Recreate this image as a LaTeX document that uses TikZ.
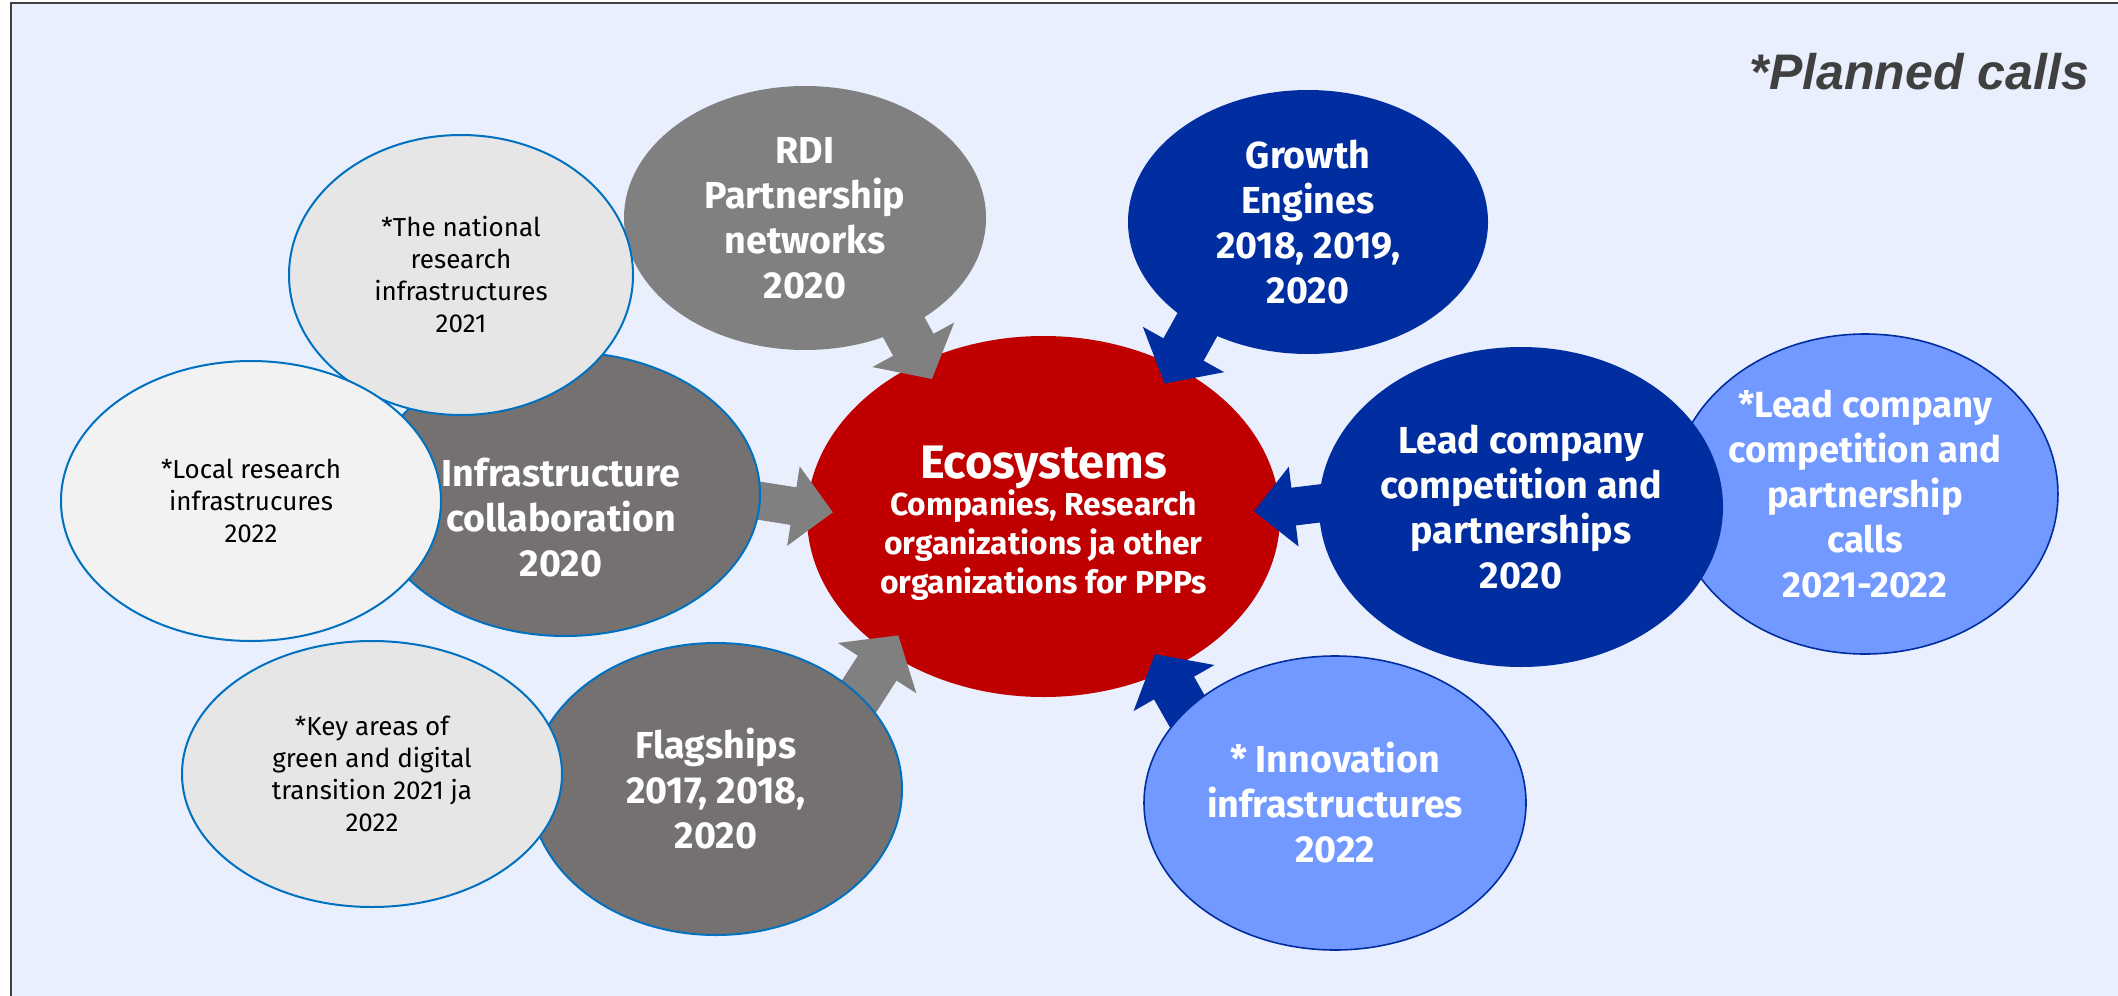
\documentclass[tikz,border=0pt]{standalone}
\usepackage{fontspec}
\setmainfont{Fira Sans}
\newfontfamily\plannedfamily{Liberation Sans}
\usetikzlibrary{shapes.geometric,arrows.meta}

\definecolor{bgblue}{RGB}{233,239,253}
\definecolor{framegrey}{RGB}{64,64,64}
\definecolor{ecored}{RGB}{192,0,0}
\definecolor{dkblue}{RGB}{0,46,160}
\definecolor{ltblue}{RGB}{114,153,255}
\definecolor{rdigrey}{RGB}{128,128,128}
\definecolor{dkgrey}{RGB}{118,113,113}
\definecolor{paleA}{RGB}{230,230,230}
\definecolor{paleB}{RGB}{242,242,242}
\definecolor{edgeblue}{RGB}{0,112,192}

\newcommand\bubfont{\bfseries\fontsize{18.8}{22.5}\selectfont}
\newcommand\notefont{\fontsize{13}{16}\selectfont}

\pgfdeclarelayer{bottom}
\pgfdeclarelayer{tips}
\pgfsetlayers{bottom,tips,main}

\begin{document}
\begin{tikzpicture}[x=0.5pt,y=-0.5pt,
  bubble/.style={ellipse, inner sep=0pt, outer sep=0pt, align=center, text=white, font=\bubfont},
  note/.style={ellipse, inner sep=0pt, outer sep=0pt, align=center, text=black, font=\notefont, draw=edgeblue, line width=1pt},
  callout/.style={line width=23pt, shorten <=-8pt, shorten >=-10pt, -{Triangle[width=45.5pt,length=19.5pt]}},
  slim/.style={line width=19pt, shorten >=-13pt, -{Triangle[width=39pt,length=20pt]}}
]
\useasboundingbox (0,0) rectangle (2118,995);

\begin{pgfonlayer}{bottom}
\fill[white] (0,0) rectangle (2118,995);
\draw[fill=bgblue, draw=framegrey, line width=1pt] (11,3) rectangle (2140,1010);
% centre
\node[bubble, fill=ecored, minimum width=236.5pt, minimum height=180.5pt, font=\bfseries\fontsize{15.9}{19.5}\selectfont] (eco) at (1043.5,516.5)
  {\rule{0pt}{23pt}{\fontsize{23.5}{23.5}\selectfont Ecosystems}\\[-1pt] Companies, Research\\ organizations ja other\\ organizations for PPPs};
\end{pgfonlayer}

% calls
\node[bubble, fill=rdigrey, minimum width=181pt, minimum height=132pt] (rdi) at (805,218) {RDI\\ Partnership\\ networks\\ 2020};
\node[bubble, fill=dkblue, minimum width=180pt, minimum height=132pt] (growth) at (1308,222) {Growth\\ Engines\\ 2018, 2019,\\ 2020};

\node[bubble, fill=dkgrey, draw=edgeblue, line width=1pt, minimum width=195pt, minimum height=142pt] (infra) at (565,494) {};
\node[bubble] (infra-t) at (561,518) {Infrastructure\\ collaboration\\ 2020};
\node[note, fill=paleA, minimum width=172pt, minimum height=140pt] (national) at (461,275) {*The national\\ research\\ infrastructures\\ 2021};
\node[note, fill=paleB, minimum width=190pt, minimum height=140pt] (local) at (251,501) {*Local research\\ infrastrucures\\ 2022};

\node[bubble, fill=dkgrey, draw=edgeblue, line width=1pt, minimum width=186pt, minimum height=146pt] (flag) at (716,789) {Flagships\\ 2017, 2018,\\ 2020};
\node[note, fill=paleA, minimum width=190pt, minimum height=133pt] (keyareas) at (372,774) {*Key areas of\\ green and digital\\ transition 2021 ja\\ 2022};

\node[bubble, fill=ltblue, draw=dkblue, line width=0.8pt, minimum width=192pt, minimum height=160pt, font=\bfseries\fontsize{18.2}{22.5}\selectfont] (leadcalls) at (1865,494) {*Lead company\\ competition and\\ partnership\\ calls\\ 2021-2022};
\node[bubble, fill=dkblue, minimum width=202pt, minimum height=160pt] (lead) at (1521,507) {Lead company\\ competition and\\ partnerships\\ 2020};
\node[bubble, fill=ltblue, draw=dkblue, line width=0.8pt, minimum width=191pt, minimum height=147pt] (innov) at (1335,803) {* Innovation\\ infrastructures\\ 2022};

\node[anchor=base east, text=framegrey, font=\plannedfamily\bfseries\itshape\fontsize{25}{28}\selectfont] (planned) at (2096,90) {*Planned calls};

% arrows into the centre
\begin{pgfonlayer}{tips}
\draw[callout, rdigrey] (rdi.312) -- (eco.128);
\draw[callout, dkblue] (growth.223) -- (eco.49);
\draw[callout, slim, rdigrey] (infra.358) -- (eco.178);
\draw[callout, rdigrey] (flag.33) -- (eco.221);
\draw[callout, slim, dkblue] (lead.179) -- (eco.2);
\draw[callout, dkblue] (innov.148) -- (eco.308);
\end{pgfonlayer}
\end{tikzpicture}
\end{document}
